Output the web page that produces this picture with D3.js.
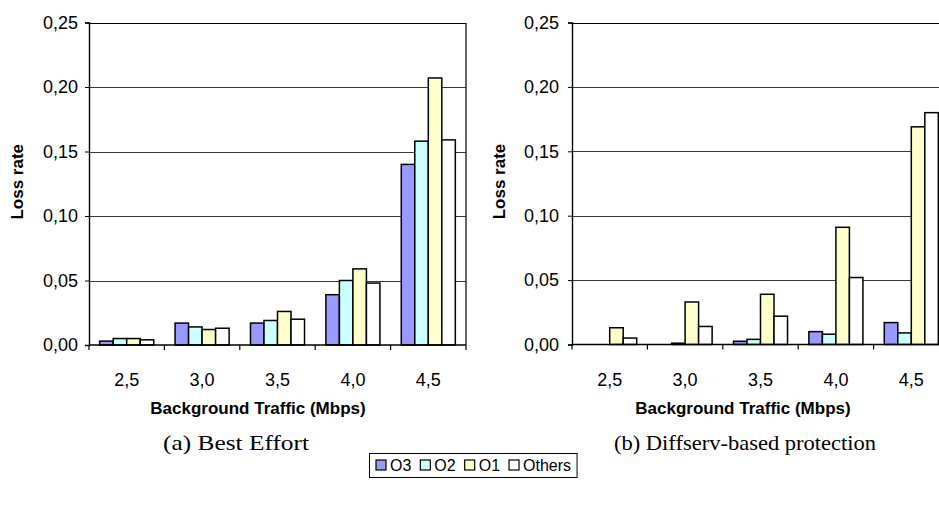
<!DOCTYPE html>
<html>
<head>
<meta charset="utf-8">
<script src="https://cdn.jsdelivr.net/npm/d3@7"></script>
<style>
  html, body { margin: 0; padding: 0; background: #fff; }
  svg { display: block; }
  text { font-family: "Liberation Sans", Arial, sans-serif; fill: #000; }
</style>
</head>
<body>
<svg id="chart" width="939" height="517"></svg>
<script>
// Background traffic levels (Mbps)
const categories = ["2,5", "3,0", "3,5", "4,0", "4,5"];
const seriesNames = ["O3", "O2", "O1", "Others"];
const seriesColors = ["#9999FF", "#CCFFFF", "#FFFFCC", "#FFFFFF"];
const yTicks = [0, 0.05, 0.10, 0.15, 0.20, 0.25];

// (a) Best Effort — loss rate per series
const bestEffortO3     = [0.003, 0.017, 0.017, 0.039, 0.140];
const bestEffortO2     = [0.005, 0.014, 0.019, 0.050, 0.158];
const bestEffortO1     = [0.005, 0.012, 0.026, 0.059, 0.207];
const bestEffortOthers = [0.004, 0.013, 0.020, 0.048, 0.159];

// (b) Diffserv-based protection — loss rate per series
const diffservO3     = [0.000, 0.000, 0.0025, 0.010, 0.017];
const diffservO2     = [0.000, 0.001, 0.004, 0.008, 0.009];
const diffservO1     = [0.013, 0.033, 0.039, 0.091, 0.169];
const diffservOthers = [0.005, 0.014, 0.022, 0.052, 0.180];

const svg = d3.select("#chart");
const fmt = d => d3.format(".2f")(d).replace(".", ",");

function drawPanel(opts) {
  const { left, top, bottom, step, series, yLabelX, yTitleX, xTitleX, caption, captionX, captionLen } = opts;
  const right = left + step * categories.length;
  const g = svg.append("g");

  const x = d3.scaleBand().domain(categories).range([left, right]).padding(0);
  const xs = d3.scaleBand().domain(seriesNames).range([0, x.bandwidth()])
    .paddingInner(0).paddingOuter(0.79);
  const y = d3.scaleLinear().domain([0, 0.25]).range([bottom, top]);

  // gridlines
  g.selectAll("line.grid").data(yTicks.filter(t => t > 0 && t < 0.25)).join("line")
    .attr("x1", left).attr("x2", right)
    .attr("y1", d => Math.round(y(d)) + 0.5).attr("y2", d => Math.round(y(d)) + 0.5)
    .attr("stroke", "#3a3a3a").attr("stroke-width", 1);

  // plot frame: top and right borders
  g.append("path")
    .attr("d", `M${left},${Math.round(top) + 0.5}H${right}V${bottom}`)
    .attr("fill", "none").attr("stroke", "#000").attr("stroke-width", 1.2);

  // bars
  const rows = categories.map((c, i) => ({ c, vals: series.map(s => s[i]) }));
  const grp = g.selectAll("g.cat").data(rows).join("g")
    .attr("transform", d => `translate(${x(d.c)},0)`);
  grp.selectAll("rect").data(d => d.vals.map((v, k) => ({ v, k }))).join("rect")
    .attr("x", d => xs(seriesNames[d.k]))
    .attr("width", xs.bandwidth())
    .attr("y", d => y(d.v))
    .attr("height", d => Math.max(0, y(0) - y(d.v)))
    .attr("fill", d => seriesColors[d.k])
    .attr("stroke", "#000").attr("stroke-width", 1.5);

  // y axis
  const yAxis = d3.axisLeft(y).tickValues(yTicks).tickFormat(fmt).tickSize(4).tickPadding(0);
  const ya = g.append("g").attr("transform", `translate(${left},0)`).call(yAxis);
  ya.select(".domain").attr("stroke", "#000").attr("stroke-width", 1.4);
  ya.selectAll(".tick line").attr("stroke", "#000");
  ya.selectAll(".tick text")
    .attr("x", yLabelX - left).attr("text-anchor", "end")
    .style("font-size", "18px").style("font-family", "'Liberation Sans', Arial, sans-serif");

  // x axis: line, ticks at category boundaries, centred labels
  g.append("line").attr("x1", left).attr("x2", right)
    .attr("y1", bottom).attr("y2", bottom)
    .attr("stroke", "#000").attr("stroke-width", 1.4);
  const bounds = d3.range(categories.length + 1).map(i => left + i * step);
  g.selectAll("line.xt").data(bounds).join("line")
    .attr("x1", d => d).attr("x2", d => d)
    .attr("y1", bottom).attr("y2", bottom + 5)
    .attr("stroke", "#000").attr("stroke-width", 1.2);
  g.selectAll("text.xl").data(categories).join("text")
    .attr("x", d => x(d) + x.bandwidth() / 2).attr("y", bottom + 41)
    .attr("text-anchor", "middle").style("font-size", "18px").text(d => d);

  // axis titles
  g.append("text")
    .attr("transform", `translate(${yTitleX},${(top + bottom) / 2 - 2}) rotate(-90)`)
    .attr("text-anchor", "middle").attr("dy", "0.35em")
    .style("font-size", "17px").style("font-weight", "bold").text("Loss rate");
  g.append("text")
    .attr("x", xTitleX).attr("y", 414)
    .attr("text-anchor", "middle")
    .style("font-size", "17px").style("font-weight", "bold").text("Background Traffic (Mbps)");

  // sub-caption
  g.append("text")
    .attr("x", captionX).attr("y", 450)
    .attr("text-anchor", "middle")
    .attr("textLength", captionLen).attr("lengthAdjust", "spacingAndGlyphs")
    .style("font-family", "'Liberation Serif', 'Times New Roman', serif")
    .style("font-size", "22px").text(caption);
}

drawPanel({
  left: 89, top: 22.5, bottom: 345, step: 75.4,
  series: [bestEffortO3, bestEffortO2, bestEffortO1, bestEffortOthers],
  yLabelX: 78, yTitleX: 17, xTitleX: 258,
  caption: "(a) Best Effort", captionX: 236, captionLen: 146
});
drawPanel({
  left: 572, top: 22.5, bottom: 344.5, step: 75.4,
  series: [diffservO3, diffservO2, diffservO1, diffservOthers],
  yLabelX: 559, yTitleX: 499, xTitleX: 743,
  caption: "(b) Diffserv-based protection", captionX: 745, captionLen: 262
});

// shared legend
const leg = svg.append("g");
const legBox = leg.append("rect")
  .attr("fill", "#fff").attr("stroke", "#000").attr("stroke-width", 1);
let cx = 376;
const legY = 465;
seriesNames.forEach((name, k) => {
  leg.append("rect")
    .attr("x", cx).attr("y", legY - 5).attr("width", 10).attr("height", 10)
    .attr("fill", seriesColors[k]).attr("stroke", "#000").attr("stroke-width", 1.2);
  const t = leg.append("text")
    .attr("x", cx + 14).attr("y", legY).attr("dy", "0.36em")
    .style("font-size", "16px").text(name);
  cx += 14 + t.node().getComputedTextLength() + 9;
});
legBox.attr("x", 369.5).attr("y", 453.5).attr("width", cx - 9 + 6 - 369.5).attr("height", 24);
</script>
</body>
</html>
